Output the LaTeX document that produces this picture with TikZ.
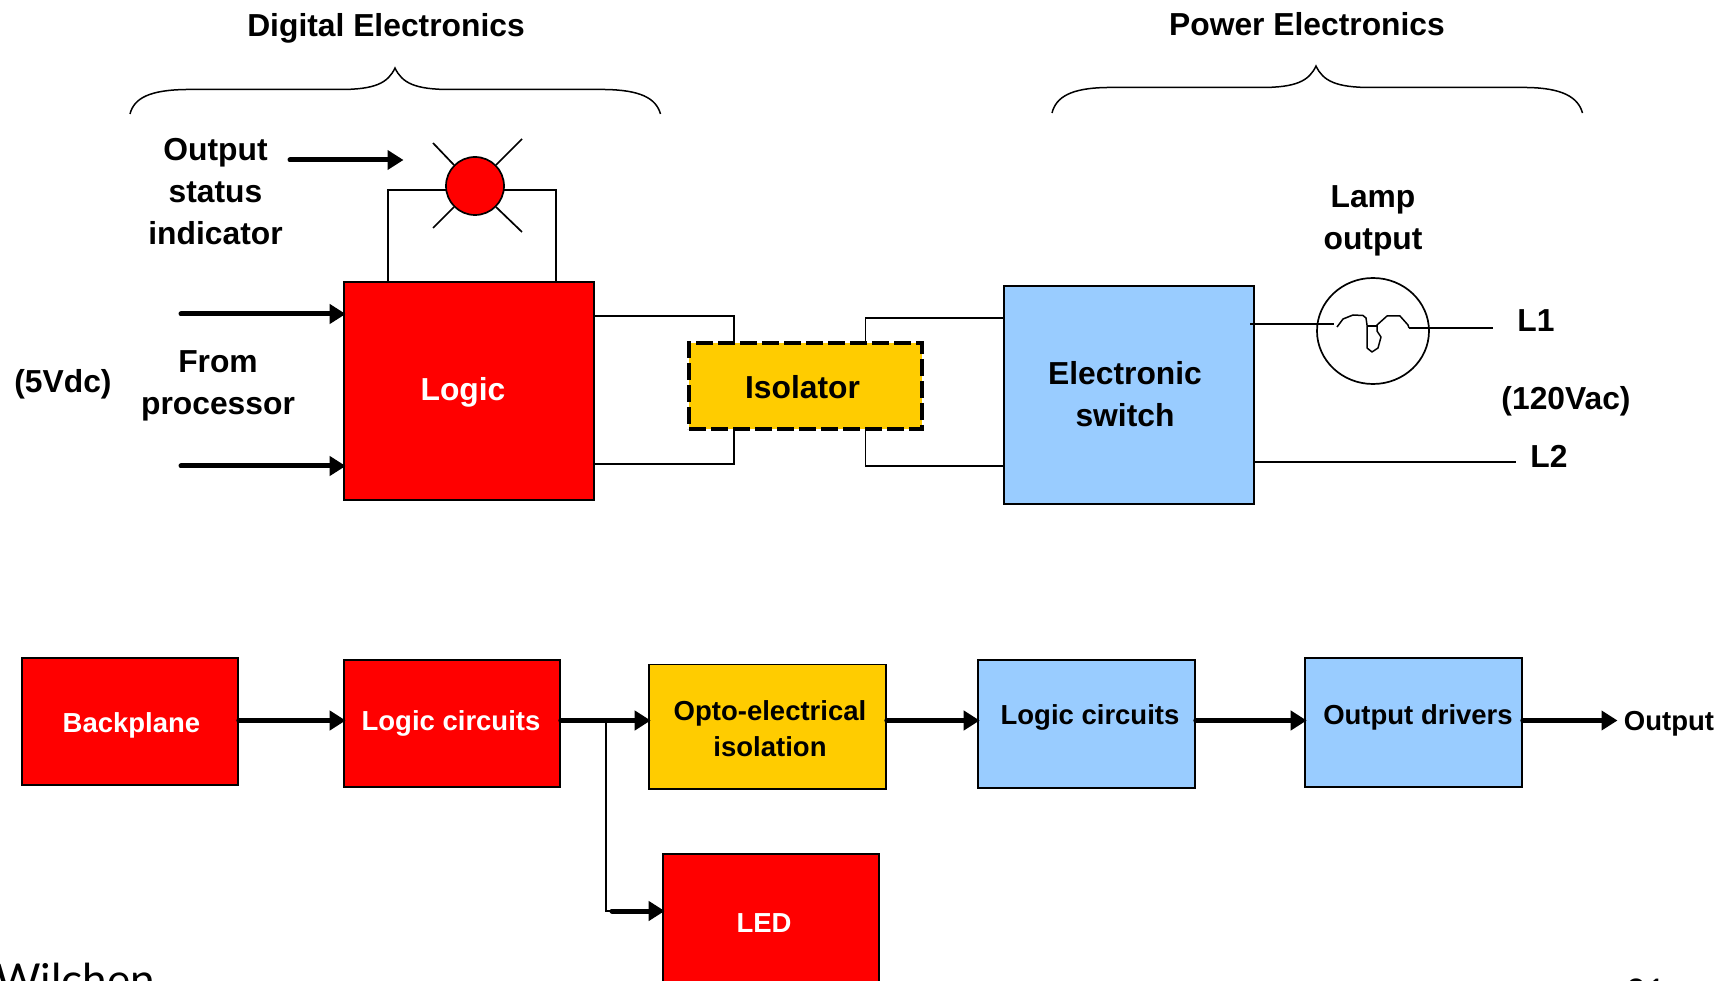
\documentclass[tikz,border=0pt]{standalone}
\usepackage{fontspec}
\setmainfont{Liberation Sans}
\newfontfamily\handfont{Lato}
\usetikzlibrary{arrows.meta,shapes.geometric}
\definecolor{boxred}{RGB}{255,0,0}
\definecolor{boxgold}{RGB}{255,204,0}
\definecolor{boxblue}{RGB}{153,204,255}
\tikzset{
  blockbox/.style={draw=black,line width=1.6pt,inner sep=0pt,rectangle},
  redbox/.style={blockbox,fill=boxred},
  goldbox/.style={blockbox,fill=boxgold},
  bluebox/.style={blockbox,fill=boxblue},
  big/.style={font=\fontsize{31.8}{42}\selectfont\bfseries,align=center,inner sep=0pt},
  small/.style={font=\fontsize{27.5}{36}\selectfont\bfseries,align=center,inner sep=0pt},
  wire/.style={draw=black,line width=1.7pt},
  thick arrow/.style={draw=black,line width=5pt,line cap=round,-{Triangle[length=16pt,width=19pt]},shorten >=-2.5pt},
}
\newcommand{\boxat}[6]{\node[#1,minimum width=#5pt-#3pt,minimum height=#6pt-#4pt] (#2) at ({(#3+#5)/2},{(#4+#6)/2}) {};}
\begin{document}
\begin{tikzpicture}[x=1pt,y=-1pt]
\useasboundingbox (0,0) rectangle (1733,981);
\clip (0,0) rectangle (1733,981);
% top blocks
\boxat{redbox}{logic}{344}{282}{594}{500}
\boxat{goldbox,dashed,dash pattern=on 17pt off 5pt,line width=4pt}{iso}{689}{343.5}{922}{429.5}
\boxat{bluebox}{esw}{1004}{286}{1254}{504}
% indicator
\coordinate (ledL) at (388,190);
\coordinate (ledR) at (556,190);
\draw[wire] (logic.north -| ledL) -- (ledL) -- (ledR) -- (logic.north -| ledR);
\node[draw=black,fill=boxred,line width=1.7pt,circle,minimum size=58pt,inner sep=0pt] (led) at (475,186) {};
\coordinate (r1) at (433,143); \coordinate (r2) at (522,139);
\coordinate (r3) at (433,228); \coordinate (r4) at (522,232);
\draw[wire] (r1) -- (led.135) (r2) -- (led.45) (r3) -- (led.225) (r4) -- (led.315);
% wires through the isolator
\coordinate (a1) at (734,316); \coordinate (a2) at (734,464);
\coordinate (b1) at (865.5,318); \coordinate (b2) at (865.5,466);
\draw[wire] (logic.east |- a1) -- (a1) -- (iso.north -| a1);
\draw[wire] (logic.east |- a2) -- (a2) -- (iso.south -| a2);
\draw[wire] (iso.north -| b1) -- (b1) -- (esw.west |- b1);
\draw[wire] (iso.south -| b2) -- (b2) -- (esw.west |- b2);
% arrows
\coordinate (statusS) at (290,160); \coordinate (statusE) at (401,160);
\coordinate (proc1) at (181,314); \coordinate (proc2) at (181,466);
\draw[thick arrow] (statusS) -- (statusE);
\draw[thick arrow] (proc1) -- (logic.west |- proc1);
\draw[thick arrow] (proc2) -- (logic.west |- proc2);
% lamp
\node[draw=black,line width=1.7pt,ellipse,minimum width=112pt,minimum height=106pt,inner sep=0pt] (lamp) at (1373,331) {};
\coordinate (l1a) at (1250,324); \coordinate (l1b) at (1334,324);
\coordinate (l2a) at (1409,328); \coordinate (l2b) at (1493,328);
\coordinate (l3) at (1516,462);
\draw[wire] (l1a) -- (l1b) (l2a) -- (l2b);
\draw[wire] (esw.east |- l3) -- (l3);
\draw[line width=1.5pt,line join=round] (1337,327) -- (1343,319) -- (1353,315) -- (1363,315.5) -- (1366,318) -- (1367,325) -- (1367,348) -- (1372,352) -- (1378,348) -- (1381,337) -- (1377,331) -- (1377,325) -- (1387,316) -- (1400,316) -- (1408,325) -- (1409,328);
\draw[line width=1.5pt] (1367,326) -- (1377,326);
% braces
\draw[line width=1.5pt] (130,114) .. controls (134,98) and (150,90) .. (186,89.5) -- (340,89.5) .. controls (375,89.5) and (388,83) .. (395,68) .. controls (402,83) and (415,89.5) .. (450,89.5) -- (605,89.5) .. controls (640,90) and (656,98) .. (660.5,114);
\draw[line width=1.5pt] (1052,113) .. controls (1056,97) and (1071,88) .. (1107,87.5) -- (1261,87.5) .. controls (1296,87.5) and (1309,81) .. (1316,66) .. controls (1323,81) and (1336,87.5) .. (1371,87.5) -- (1527,87.5) .. controls (1562,88) and (1578,97) .. (1582.5,113);
% lower row
\boxat{redbox}{back}{22}{658}{238}{785}
\boxat{redbox}{lc}{344}{660}{560}{787}
\boxat{goldbox}{opto}{649}{664.5}{886}{789}
\boxat{redbox}{ledb}{663}{854}{879}{982}
\boxat{bluebox}{lc2}{978}{660}{1195}{788}
\boxat{bluebox}{drv}{1305}{658}{1522}{787}
\coordinate (row) at (0,720.5);
\coordinate (outE) at (1615,720.5);
\coordinate (brT) at (606,720.5); \coordinate (brB) at (606,911);
\coordinate (brM) at (612,911);
\draw[thick arrow] (back.east |- row) -- (lc.west |- row);
\draw[thick arrow] (lc.east |- row) -- (opto.west |- row);
\draw[thick arrow] (opto.east |- row) -- (lc2.west |- row);
\draw[thick arrow] (lc2.east |- row) -- (drv.west |- row);
\draw[thick arrow] (drv.east |- row) -- (outE);
\draw[wire] (brT) -- (brB) -- (brM);
\draw[thick arrow] (brM) -- (ledb.west |- brM);
% texts
\node[big] (t1) at (386,28) {Digital Electronics};
\node[big] (t2) at (1307,24) {Power Electronics};
\node[big] (t3) at (215.5,192) {Output\\status\\indicator};
\node[big] (t4) at (218,386) {From\\processor};
\node[big] (t5) at (63,384) {(5Vdc)};
\node[big,text=white] (t6) at (463,392) {Logic};
\node[big] (t7) at (802.5,387) {Isolator};
\node[big] (t8) at (1125,394.5) {Electronic\\switch};
\node[big] (t9) at (1373,221) {Lamp\\output};
\node[big] (t10) at (1536,320.5) {L1};
\node[big] (t11) at (1566,401) {(120Vac)};
\node[big] (t12) at (1549,456.5) {L2};
\node[small,text=white] (t13) at (131.5,725) {Backplane};
\node[small,text=white] (t14) at (451,723) {Logic circuits};
\node[small] (t15) at (770,729) {Opto-electrical\\isolation};
\node[small] (t16) at (1090,717) {Logic circuits};
\node[small] (t17) at (1418,717) {Output drivers};
\node[small] (t18) at (1669,724) {Output};
\node[small,text=white] (t19) at (764,923) {LED};
\node[font=\fontsize{44}{44}\handfont,anchor=base west,inner sep=0pt] (t20) at (-5,995) {Wilchen};
\node[font=\fontsize{34}{34}\handfont,anchor=base west,inner sep=0pt] (t21) at (1626,1003) {21};
\end{tikzpicture}
\end{document}
